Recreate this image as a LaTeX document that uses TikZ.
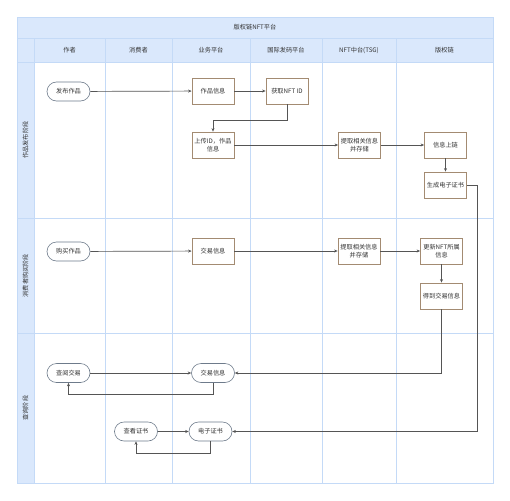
\documentclass[tikz,border=0pt]{standalone}
\usepackage{fontspec}
\newfontfamily\cjk{Noto Sans CJK SC}
\usetikzlibrary{arrows.meta,shadows}
\definecolor{hdrfill}{HTML}{DAE8FC}
\definecolor{gridline}{HTML}{C4DAF7}
\definecolor{boxline}{HTML}{A38B72}
\definecolor{pillline}{HTML}{6E7B8B}
\definecolor{arrline}{HTML}{555555}
\tikzset{
  every node/.style={font=\cjk\fontsize{6.2}{7.8}\selectfont, text=black!80, inner sep=1pt},
  lane/.style={draw=gridline, line width=0.8pt},
  hdr/.style={draw=gridline, fill=hdrfill, line width=0.8pt},
  procbox/.style={draw=boxline, fill=white, line width=0.8pt, minimum width=42pt, minimum height=26pt, align=center,
     drop shadow={shadow xshift=0.8pt, shadow yshift=-0.8pt, opacity=0.15}},
  pill/.style={draw=pillline, fill=white, line width=0.6pt, rounded corners=9.5pt, minimum width=43pt, minimum height=19pt, align=center},
  arr/.style={draw=arrline, line width=0.7pt, -{Stealth[length=3.5pt,width=3pt]}}
}
\begin{document}
\begin{tikzpicture}[x=1pt,y=-1pt]
\useasboundingbox (0,0) rectangle (510,500);
% frame
\fill[white] (17,17) rectangle (493,483);
\draw[hdr] (17,17) rectangle (493,38);
\node (title) at (255,27.5) {版权链NFT平台};
\draw[hdr] (17,38) rectangle (34,483);
% header cells
\draw[hdr] (34,38) rectangle (105,62);
\draw[hdr] (105,38) rectangle (172,62);
\draw[hdr] (172,38) rectangle (250,62);
\draw[hdr] (250,38) rectangle (322,62);
\draw[hdr] (322,38) rectangle (396,62);
\draw[hdr] (396,38) rectangle (493,62);
\node (h1) at (69.5,50) {作者};
\node (h2) at (138.5,50) {消费者};
\node (h3) at (211,50) {业务平台};
\node (h4) at (286,50) {国际发码平台};
\node (h5) at (359,50) {NFT中台(TSG)};
\node (h6) at (444.5,50) {版权链};
% phase cells
\draw[hdr] (17,62) rectangle (34,218);
\draw[hdr] (17,218) rectangle (34,333);
\draw[hdr] (17,333) rectangle (34,483);
\node[rotate=90] (p1) at (25.5,140) {作品发布阶段};
\node[rotate=90] (p2) at (25.5,275.5) {消费者购买阶段};
\node[rotate=90] (p3) at (25.5,408) {查询阶段};
% lane lines
\foreach \x in {105,172,250,322,396} \draw[lane] (\x,62) -- (\x,483);
\draw[lane] (34,218) -- (493,218);
\draw[lane] (34,333) -- (493,333);
\draw[lane] (34,62) rectangle (493,483);
% phase 1 nodes
\node[pill] (fb) at (68.5,91.5) {发布作品};
\node[procbox] (zpxx) at (213,91) {作品信息};
\node[procbox] (nftid) at (287,91) {获取NFT ID};
\node[procbox] (upl) at (213,145) {上传ID，作品\\信息};
\node[procbox] (tq1) at (359.5,145) {提取相关信息\\并存储};
\node[procbox] (sl) at (445.5,145) {信息上链};
\node[procbox] (zs) at (445.5,185) {生成电子证书};
% phase 2 nodes
\node[pill] (gm) at (68.5,251.5) {购买作品};
\node[procbox] (jy) at (213,251) {交易信息};
\node[procbox] (tq2) at (359,251) {提取相关信息\\并存储};
\node[procbox] (gx) at (441.5,251) {更新NFT所属\\信息};
\node[procbox] (dd) at (441.5,296) {得到交易信息};
% phase 3 nodes
\node[pill] (cy) at (68.5,373) {查阅交易};
\node[pill] (jy2) at (213,373) {交易信息};
\node[pill] (ck) at (136,431.5) {查看证书};
\node[pill] (dzzs) at (210.5,431.5) {电子证书};
% helper coordinates
\coordinate (c1) at (287,120);
\coordinate (c2) at (477,431.5);
\coordinate (c3) at (441.5,373);
\coordinate (c4) at (213,394);
\coordinate (c5) at (68.5,394);
\coordinate (c6) at (210.5,453);
\coordinate (c7) at (136,453);
% connectors
\draw[arr] (fb) -- (zpxx);
\draw[arr] (zpxx) -- (nftid);
\draw[arr] (nftid.south) -- (c1) -| (upl.north);
\draw[arr] (upl) -- (tq1);
\draw[arr] (tq1) -- (sl);
\draw[arr] (sl) -- (zs);
\draw[arr] (zs.east) -| (c2) -- (dzzs.east);
\draw[arr] (gm) -- (jy);
\draw[arr] (jy) -- (tq2);
\draw[arr] (tq2) -- (gx);
\draw[arr] (gx) -- (dd);
\draw[arr] (dd.south) -- (c3) -- (jy2.east);
\draw[arr] (cy) -- (jy2);
\draw[arr] (jy2.south) -- (c4) -- (c5) -- (cy.south);
\draw[arr] (ck) -- (dzzs);
\draw[arr] (dzzs.south) -- (c6) -- (c7) -- (ck.south);
\end{tikzpicture}
\end{document}
